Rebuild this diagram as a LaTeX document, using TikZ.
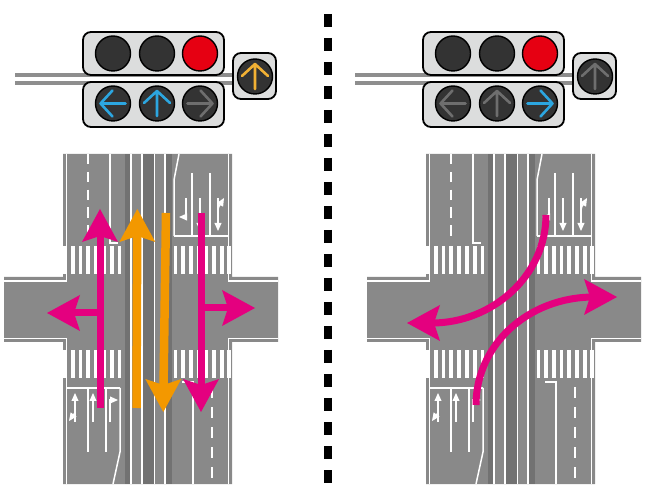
\documentclass[tikz,border=0pt]{standalone}
\usetikzlibrary{arrows.meta}
\definecolor{road}{HTML}{898989}
\definecolor{dk}{HTML}{727272}
\definecolor{hous}{HTML}{DCDDDD}
\definecolor{lamp}{HTML}{333333}
\definecolor{lred}{HTML}{E60012}
\definecolor{lblue}{HTML}{2CA6E0}
\definecolor{lgray}{HTML}{6E6E6E}
\definecolor{lyel}{HTML}{F2B134}
\definecolor{mag}{HTML}{E4007F}
\definecolor{org}{HTML}{F39800}
\definecolor{pole}{HTML}{8E8E8E}
\tikzset{
 mk/.style={white,line width=1.5pt},
 stopl/.style={white,line width=2pt},
 magl/.style={mag,line width=7pt},
 orgl/.style={org,line width=8.5pt},
 lampc/.style={draw=black,line width=1.4pt,fill=lamp},
 housing/.style={draw=black,line width=1.8pt,fill=hous,rounded corners=8pt},
 larr/.style={line width=2.6pt,line cap=round,line join=round},
 glyph/.style={white,line width=1.4pt},
}
\newcommand\arrhead[4]{\fill[#4,shift={(#1,#2)},rotate=#3] (0,0) -- (-33,18) -- (-27,0) -- (-33,-18) -- cycle;}
\newcommand\gtip[3]{\fill[white,shift={(#1,#2)},rotate=#3] (0,0) -- (-8,3.6) -- (-8,-3.6) -- cycle;}
\newcommand\lamparr[4]{\draw[larr,#4,shift={(#1,#2)},rotate=#3] (-12.5,0) -- (12.5,0) (0.5,13) -- (12.5,0) -- (0.5,-13);}
\newcommand\lightset[4]{%
 \draw[pole,line width=4pt] (15,75.3) -- (240,75.3);
 \draw[pole,line width=4pt] (15,82.8) -- (240,82.8);
 \draw[housing] (83,32) rectangle (224,75);
 \draw[housing] (83,82) rectangle (224,127);
 \draw[housing] (233,53) rectangle (276,99);
 \draw[lampc] (113,53.5) circle[radius=17.5pt];
 \draw[lampc] (157,53.5) circle[radius=17.5pt];
 \draw[lampc,fill=lred] (200,53.5) circle[radius=17.5pt];
 \foreach \cx in {113,157,200} {\draw[lampc] (\cx,103.5) circle[radius=17.5pt];}
 \draw[lampc] (255,76.5) circle[radius=17.5pt];
 \lamparr{113}{103.5}{180}{#1}
 \lamparr{157}{103.5}{90}{#2}
 \lamparr{200}{103.5}{0}{#3}
 \lamparr{255}{76.5}{90}{#4}
}
\newcommand\roadbase{%
 \fill[road] (63,154) -- (232,154) -- (232,277) -- (278,277) -- (278,342) -- (232,342) -- (232,484) -- (63,484) -- (63,342) -- (4,342) -- (4,277) -- (63,277) -- cycle;
 \draw[mk] (66.5,154) -- (66.5,281) -- (4,281);
 \draw[mk] (228.5,154) -- (228.5,281) -- (278,281);
 \draw[mk] (4,338.5) -- (66.5,338.5) -- (66.5,484);
 \draw[mk] (278,338.5) -- (228.5,338.5) -- (228.5,484);
 \fill[dk] (124.5,154) rectangle (130,484);
 \fill[dk] (143,154) rectangle (153.5,484);
 \fill[dk] (166,154) rectangle (172,484);
 \foreach \x in {131,142,154.5,165} {\draw[white,line width=1.3pt] (\x,154) -- (\x,484);}
 \foreach \y in {246,350} {
   \foreach \x in {63,70.8,78.6,86.4,94.2,102,109.8,117.6} {\fill[white] (\x,\y) rectangle ++(3.8,28);}
   \foreach \x in {173.5,181.2,188.9,196.6,204.3,212,219.7,227.4} {\fill[white] (\x,\y) rectangle ++(3.8,28);}
 }
 % upper left
 \draw[mk,dash pattern=on 10.5pt off 7.3pt] (88,154) -- (88,236);
 \draw[mk] (110,154) -- (110,243) -- (118,243);
 % upper right
 \draw[mk] (179,154) -- (174,180) -- (174,236);
 \draw[stopl] (174,236) -- (228,236);
 \draw[mk] (192,173) -- (192,236) (210,173) -- (210,236);
 % lower left
 \draw[stopl] (67,388) -- (120,388);
 \draw[mk] (120,388) -- (120,452) -- (113,484);
 \draw[mk] (88,388) -- (88,452) (106,388) -- (106,452);
 % lower right
 \draw[mk] (182,382) -- (193,382) -- (193,484);
 \draw[mk,dash pattern=on 11pt off 9pt] (212,387) -- (212,484);
 % lane glyphs, upper right
 \draw[glyph] (186,198) -- (186,217) -- (184,217);
 \gtip{179}{217}{180}
 \draw[glyph] (200,198) -- (200,224);
 \gtip{200}{231}{-90}
 \draw[glyph] (218,198) -- (218,224);
 \gtip{218}{231}{-90}
 \draw[glyph] (218,212) .. controls (218,206) and (220,204) .. (222,203);
 \gtip{224}{198}{60}
 % lane glyphs, lower left
 \draw[glyph] (75,422) -- (75,400);
 \gtip{75}{393}{90}
 \draw[glyph] (75,413) -- (72,416);
 \gtip{69}{421}{-125}
 \draw[glyph] (93,422) -- (93,400);
 \gtip{93}{393}{90}
 \draw[glyph] (110,422) -- (110,400) -- (112,400);
 \gtip{118}{400}{0}
}
\begin{document}
\begin{tikzpicture}[x=1pt,y=-1pt]
\useasboundingbox (0,0) rectangle (651,494);
\fill[white] (0,0) rectangle (651,494);
% traffic lights
\lightset{lblue}{lblue}{lgray}{lyel}
\begin{scope}[xshift=340pt]
\lightset{lgray}{lgray}{lblue}{lgray}
\end{scope}
% divider
\draw[black,line width=8pt,dash pattern=on 13pt off 11pt] (327.5,14) -- (327.5,494);
% roads
\roadbase
\begin{scope}[xshift=363pt]
\roadbase
\end{scope}
% left diagram arrows
\draw[orgl] (136.5,408) -- (137.2,234);
\arrhead{137.3}{209}{90}{org}
\draw[orgl] (166,213) -- (163.5,388);
\arrhead{163.3}{412}{-90}{org}
\draw[magl] (100,408) -- (100,234);
\arrhead{100}{209}{90}{mag}
\draw[magl] (100,313) -- (72,313);
\arrhead{47}{313}{180}{mag}
\draw[magl] (201,213) -- (201,388);
\arrhead{201}{412}{-90}{mag}
\draw[magl] (201,308) -- (230,308);
\arrhead{255}{308}{0}{mag}
% right diagram arrows
\draw[magl] (546,215) .. controls (546,276) and (492,323) .. (432,323);
\arrhead{407}{323}{180}{mag}
\draw[magl] (476,405) .. controls (476,345) and (528,297) .. (594,297);
\arrhead{617}{297}{0}{mag}
\end{tikzpicture}
\end{document}
